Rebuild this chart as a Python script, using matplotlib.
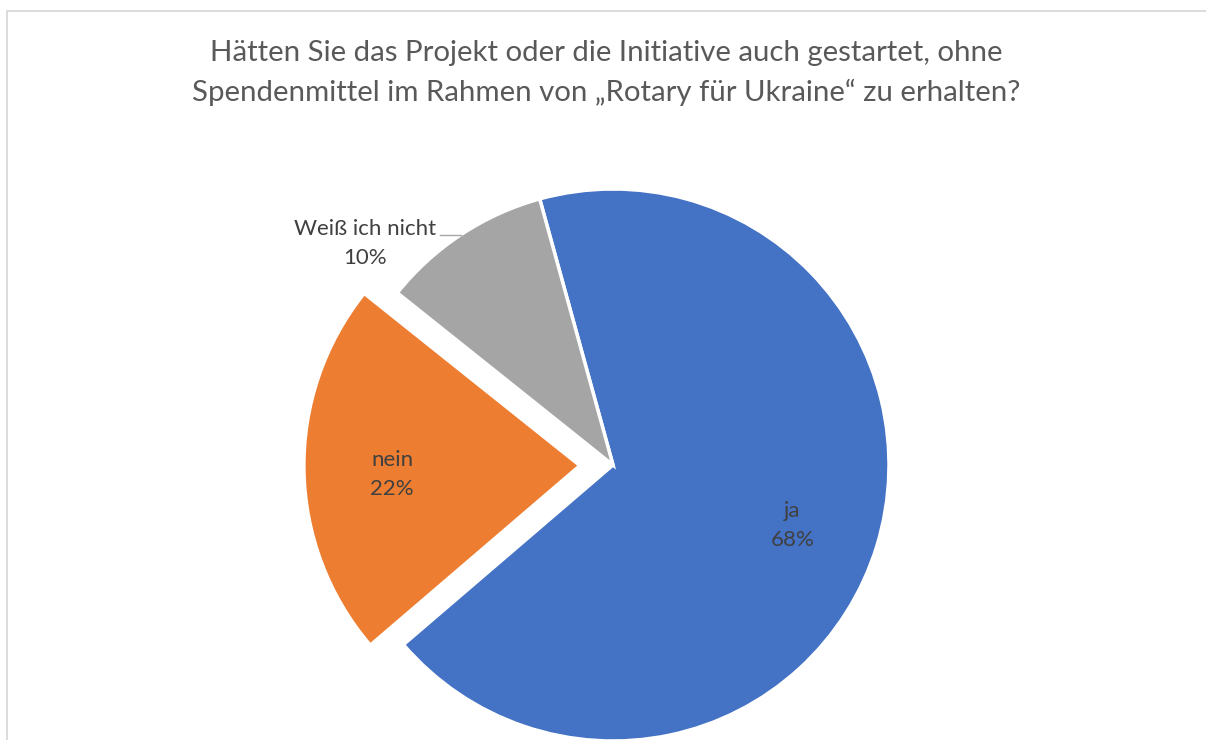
import numpy as np
import matplotlib.pyplot as plt

# Daten der Umfrage
kategorien = ["ja", "nein", "Weiß ich nicht"]
anteile = [68, 22, 10]
farben = ["#4472C4", "#ED7D31", "#A5A5A5"]
explode = [0, 0.12, 0]

titel = ("Hätten Sie das Projekt oder die Initiative auch gestartet, ohne\n"
         "Spendenmittel im Rahmen von „Rotary für Ukraine“ zu erhalten?")

plt.rcParams['font.family'] = ['Lato', 'DejaVu Sans']

W, H = 1206, 740
cx, cy, R = 613, 465, 276   # Mittelpunkt und Radius in Pixeln

fig = plt.figure(figsize=(W / 100, H / 100), dpi=100)
ax = fig.add_axes([0, 0, 1, 1])

wedges, _ = ax.pie(anteile, colors=farben, explode=explode,
                   startangle=105.4, counterclock=False,
                   wedgeprops=dict(edgecolor="white", linewidth=2.5))

ax.set_aspect("auto")
ax.set_xlim(-cx / R, (W - cx) / R)
ax.set_ylim(-(H - cy) / R, cy / R)
ax.axis("off")

# Beschriftungen
textfarbe = "#404040"
for w, name, wert in zip(wedges, kategorien, anteile):
    mitte = np.deg2rad((w.theta1 + w.theta2) / 2)
    x0, y0 = w.center
    if name == "Weiß ich nicht":
        px, py = x0 + np.cos(mitte), y0 + np.sin(mitte)
        ax.plot([px - 0.076, px], [py, py], color="#A6A6A6", lw=1)
        ax.text(px - 0.092, py - 9 / R, f"{name}\n{wert}%", ha="right", va="center",
                multialignment="center", fontsize=16, color=textfarbe, linespacing=1.55)
    else:
        ax.text(x0 + 0.68 * np.cos(mitte), y0 + 0.68 * np.sin(mitte) - 6 / R, f"{name}\n{wert}%",
                ha="center", va="center", fontsize=16, color=textfarbe, linespacing=1.55)

fig.text(606 / W, 1 - 73 / H, titel, ha="center", va="center", fontsize=21.2,
         color="#595959", linespacing=1.6)

# Rahmen des Diagrammbereichs
rahmen = plt.Rectangle((7 / W, -0.1), 1.2, (H - 10.5) / H + 0.1, transform=fig.transFigure,
                       fill=False, edgecolor="#D9D9D9", linewidth=1.3)
fig.add_artist(rahmen)

fig.savefig("out.png", dpi=100)
